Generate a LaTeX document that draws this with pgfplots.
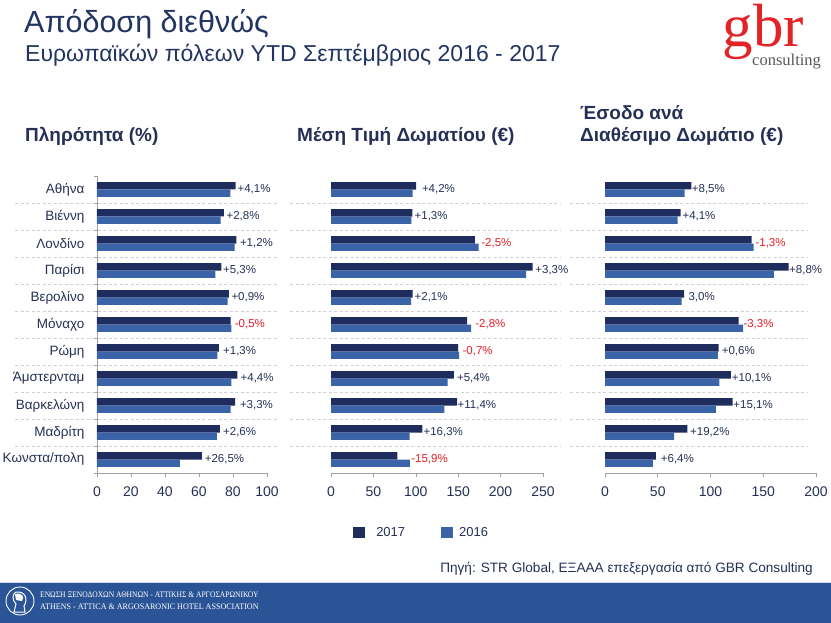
\documentclass[border=0pt]{standalone}
\usepackage{fontspec}
\setmainfont{Liberation Sans}
\newfontfamily\logoserif{Liberation Serif}
\usepackage{pgfplots}
\usepackage{pgfplotstable}
\pgfplotsset{compat=1.18}

\definecolor{navy}{RGB}{38,48,86}
\definecolor{titleblue}{RGB}{33,52,98}
\definecolor{bar17}{RGB}{31,45,94}
\definecolor{bar16}{RGB}{59,99,168}
\definecolor{negred}{RGB}{232,30,37}
\definecolor{gridgray}{RGB}{208,208,208}
\definecolor{axisgray}{RGB}{160,160,160}
\definecolor{band}{RGB}{42,84,150}
\definecolor{logored}{RGB}{226,35,40}

\newcommand{\fs}[1]{\fontsize{#1}{#1}\selectfont}

% idx 10 = Athens (top) ... 0 = Istanbul (bottom)
\pgfplotstableread{
idx v17 v16
10 81.6 78.4
9 74.7 72.7
8 82.0 81.0
7 73.1 69.6
6 77.6 76.9
5 78.6 79.0
4 71.7 70.8
3 82.6 79.1
2 81.2 78.6
1 72.3 70.5
0 61.7 48.8
}\occ

\pgfplotstableread{
idx v17 v16
10 100.4 96.4
9 96.0 94.7
8 169.6 174.0
7 237.7 230.0
6 96.4 94.4
5 160.6 165.3
4 150.0 151.1
3 144.8 137.4
2 148.8 133.6
1 107.8 92.7
0 78.3 93.1
}\adr

\pgfplotstableread{
idx v17 v16
10 81.8 75.4
9 71.7 68.9
8 139.0 140.8
7 174.1 160.0
6 74.9 72.7
5 126.7 131.0
4 107.8 107.1
3 119.4 108.5
2 121.0 105.1
1 78.0 65.4
0 48.3 45.4
}\revpar

\newcommand{\pl}[3]{\node[anchor=west, inner sep=0pt, font=\fs{11.5}, text=navy] at (axis cs:#1,#2) {#3};}
\newcommand{\nl}[3]{\node[anchor=west, inner sep=0pt, font=\fs{11.5}, text=negred] at (axis cs:#1,#2) {#3};}

\pgfplotsset{
  panel/.style={
    scale only axis, height=297pt,
    anchor=south west,
    ymin=-0.5, ymax=10.5,
    enlargelimits=false,
    xbar, bar width=0.27,
    legend image code/.code={\fill[##1] (0pt,-5.5pt) rectangle (12pt,5.5pt);},
    axis x line*=bottom,
    axis line style={axisgray, line width=0.6pt},
    tick style={axisgray, line width=0.6pt},
    tick align=outside,
    major tick length=4pt,
    clip=false,
    ticklabel style={font=\fs{14}, text=navy},
    xticklabel shift=6pt,
    /pgf/number format/assume math mode=true,
  },
}

\begin{document}
\begin{tikzpicture}
\path[fill=white, use as bounding box] (0,0) rectangle (831pt,-623pt);

% titles
\node[anchor=base west, inner sep=0pt, font=\fs{30.5}, text=titleblue] at (24pt,-33pt) {Απόδοση διεθνώς};
\node[anchor=base west, inner sep=0pt, font=\fs{23}, text=titleblue] at (25pt,-62pt) {Ευρωπαϊκών πόλεων YTD Σεπτέμβριος 2016 - 2017};

% logo
\node[anchor=base west, inner sep=0pt, font=\logoserif\fs{61}, text=logored] at (722pt,-47pt) {g};
\node[anchor=base west, inner sep=0pt, font=\logoserif\fs{61}, text=logored] at (753pt,-47pt) {br};
\node[anchor=base west, inner sep=0pt, font=\logoserif\fs{16.5}, text=black!65] at (752pt,-66pt) {consulting};

% panel headings
\node[anchor=base west, inner sep=0pt, font=\bfseries\fs{19}, text=navy] at (25pt,-142pt) {Πληρότητα (\%)};
\node[anchor=base west, inner sep=0pt, font=\bfseries\fs{19}, text=navy] at (297pt,-142pt) {Μέση Τιμή Δωματίου (€)};
\node[anchor=base west, inner sep=0pt, font=\bfseries\fs{19}, text=navy] at (580pt,-120pt) {Έσοδο ανά};
\node[anchor=base west, inner sep=0pt, font=\bfseries\fs{19}, text=navy] at (580pt,-142pt) {Διαθέσιμο Δωμάτιο (€)};

%%%%%%%%%%%%%%%%%%%%%%% Occupancy %%%%%%%%%%%%%%%%%%%%%%%
\begin{axis}[panel, at={(97pt,-473pt)}, width=170pt,
  xmin=0, xmax=100, xtick={0,20,...,100},
  axis y line*=left,
  ytick={0,...,10},
  yticklabels={Κωνστα/πολη,Μαδρίτη,Βαρκελώνη,Άμστερνταμ,Ρώμη,Μόναχο,Βερολίνο,Παρίσι,Λονδίνο,Βιέννη,Αθήνα},
  yticklabel style={font=\fs{13.5}},
  yticklabel shift=5pt,
  major y tick style={draw=none},
  minor ytick={-0.5,0.5,...,10.5},
  minor tick length=3pt,
]
\pgfplotsinvokeforeach{0.5,1.5,...,9.5}{
  \draw[gridgray, line width=0.7pt, dash pattern=on 3pt off 2.5pt] (axis cs:-48,#1) -- (axis cs:107,#1);
}
\addplot[fill=bar17, draw=none, bar shift=0.135] table[x=v17, y=idx] {\occ};
\addplot[fill=bar16, draw=none, bar shift=-0.135] table[x=v16, y=idx] {\occ};
\pl{82.6}{10}{+4,1\%}
\pl{76.1}{9}{+2,8\%}
\pl{84.0}{8}{+1,2\%}
\pl{74.1}{7}{+5,3\%}
\pl{79.0}{6}{+0,9\%}
\nl{81.0}{5}{-0,5\%}
\pl{74.1}{4}{+1,3\%}
\pl{84.4}{3}{+4,4\%}
\pl{84.0}{2}{+3,3\%}
\pl{74.1}{1}{+2,6\%}
\pl{63.3}{0}{+26,5\%}
\end{axis}

%%%%%%%%%%%%%%%%%%%%%%% ADR %%%%%%%%%%%%%%%%%%%%%%%
\begin{axis}[panel, at={(331pt,-473pt)}, width=212pt,
  xmin=0, xmax=250, xtick={0,50,...,250},
  axis y line=none, ytick=\empty,
  legend columns=2,
  legend style={at={(0.104,-0.202)}, anchor=west, draw=none, fill=none,
    font=\fs{13}, text=navy, inner sep=0pt,
    /tikz/column 1/.style={column sep=9pt},
    /tikz/column 2/.style={column sep=34pt},
    /tikz/column 3/.style={column sep=4pt}},
  legend cell align=left,
]
\pgfplotsinvokeforeach{0.5,1.5,...,9.5}{
  \draw[gridgray, line width=0.7pt, dash pattern=on 3pt off 2.5pt] (axis cs:-48,#1) -- (axis cs:270,#1);
}
\addplot[fill=bar17, draw=none, bar shift=0.135] table[x=v17, y=idx] {\adr};
\addlegendentry{2017}
\addplot[fill=bar16, draw=none, bar shift=-0.135] table[x=v16, y=idx] {\adr};
\addlegendentry{2016}
\pl{107.1}{10}{+4,2\%}
\pl{98.4}{9}{+1,3\%}
\nl{177.1}{8}{-2,5\%}
\pl{240.8}{7}{+3,3\%}
\pl{98.4}{6}{+2,1\%}
\nl{170.0}{5}{-2,8\%}
\nl{155.0}{4}{-0,7\%}
\pl{148.4}{3}{+5,4\%}
\pl{149.2}{2}{+11,4\%}
\pl{109.0}{1}{+16,3\%}
\nl{94.5}{0}{-15,9\%}
\end{axis}

%%%%%%%%%%%%%%%%%%%%%%% RevPAR %%%%%%%%%%%%%%%%%%%%%%%
\begin{axis}[panel, at={(605pt,-473pt)}, width=211pt,
  xmin=0, xmax=200, xtick={0,50,...,200},
  axis y line=none, ytick=\empty,
]
\pgfplotsinvokeforeach{0.5,1.5,...,9.5}{
  \draw[gridgray, line width=0.7pt, dash pattern=on 3pt off 2.5pt] (axis cs:-33,#1) -- (axis cs:192,#1);
}
\addplot[fill=bar17, draw=none, bar shift=0.135] table[x=v17, y=idx] {\revpar};
\addplot[fill=bar16, draw=none, bar shift=-0.135] table[x=v16, y=idx] {\revpar};
\pl{82.2}{10}{+8,5\%}
\pl{73.3}{9}{+4,1\%}
\nl{142.5}{8}{-1,3\%}
\pl{174.4}{7}{+8,8\%}
\pl{79.0}{6}{3,0\%}
\nl{131.1}{5}{-3,3\%}
\pl{110.6}{4}{+0,6\%}
\pl{120.1}{3}{+10,1\%}
\pl{121.6}{2}{+15,1\%}
\pl{80.6}{1}{+19,2\%}
\pl{52.8}{0}{+6,4\%}
\end{axis}

% source
\node[anchor=base east, inner sep=0pt, font=\fs{13.6}, text=navy] at (813pt,-572pt) {Πηγή: STR Global, ΕΞΑΑΑ επεξεργασία από GBR Consulting};

% footer band
\fill[band] (0pt,-582pt) rectangle (831pt,-623pt);
\draw[white!80!band, line width=0.8pt] (0pt,-582.4pt) -- (831pt,-582.4pt);
\draw[white, line width=0.9pt] (20pt,-601pt) circle (14pt);
\draw[white, line width=1pt] (16pt,-592pt) .. controls (26pt,-591pt) and (28pt,-600pt) .. (24pt,-606pt) -- (25pt,-612pt) -- (14pt,-612pt) -- (16pt,-604pt) .. controls (12pt,-600pt) and (12pt,-594pt) .. cycle;
\fill[white] (15pt,-594pt) .. controls (22pt,-592pt) and (25pt,-597pt) .. (22pt,-601pt) -- (16pt,-600pt) -- cycle;
\node[anchor=base west, inner sep=0pt, font=\logoserif\fs{8.5}, text=white, xscale=0.886] at (40pt,-597pt) {ΕΝΩΣΗ ΞΕΝΟΔΟΧΩΝ ΑΘΗΝΩΝ - ΑΤΤΙΚΗΣ \& ΑΡΓΟΣΑΡΩΝΙΚΟΥ};
\node[anchor=base west, inner sep=0pt, font=\logoserif\fs{8.5}, text=white, xscale=0.95] at (40pt,-609pt) {ATHENS - ATTICA \& ARGOSARONIC HOTEL ASSOCIATION};
\end{tikzpicture}
\end{document}
